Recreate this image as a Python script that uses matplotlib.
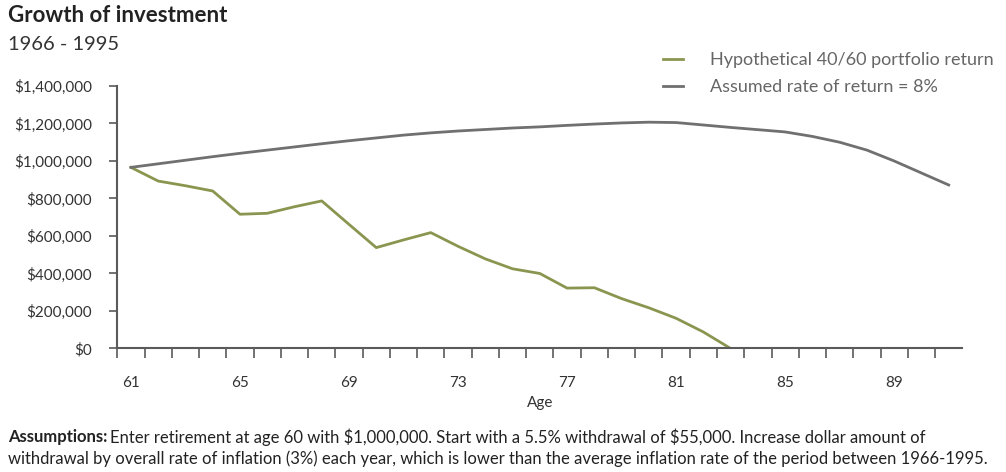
import numpy as np
import matplotlib
matplotlib.use("Agg")
import matplotlib.pyplot as plt
from matplotlib.ticker import FuncFormatter, MultipleLocator

plt.rcParams['font.family'] = ['Lato', 'DejaVu Sans']
plt.rcParams['text.parse_math'] = False

# portfolio value at each age, 1966 - 1995 returns
ages = list(range(61, 92))
portfolio_40_60 = [966000, 893000, 868000, 840000, 716000, 721000, 756000, 787000,
                   662000, 538000, 579000, 618000, 545000, 478000, 425000, 400000,
                   322000, 324000, 266000, 217000, 161000, 88000, 0]
assumed_8pct = [966000, 985000, 1004000, 1023000, 1041000, 1058000, 1075000, 1092000,
                1108000, 1123000, 1138000, 1150000, 1160000, 1168000, 1176000, 1182000,
                1190000, 1197000, 1203000, 1207000, 1205000, 1192000, 1179000, 1167000,
                1155000, 1131000, 1100000, 1058000, 1000000, 936000, 872000]
age_labels = [61, 65, 69, 73, 77, 81, 85, 89]

GREEN = '#8a9650'
GRAY = '#707070'
AXIS = '#5a5a5a'
TEXT = '#333333'

def money(v, pos):
    return "${:,.0f}".format(v)

def main():
    fig = plt.figure(figsize=(10.06, 4.72), dpi=100)
    ax = fig.add_axes([0.1166, 0.2617, 0.84, 0.5561])

    ax.plot(ages[:len(portfolio_40_60)], portfolio_40_60, color=GREEN, lw=2.0,
            label="Hypothetical 40/60 portfolio return", solid_joinstyle='round')
    ax.plot(ages, assumed_8pct, color=GRAY, lw=2.0,
            label="Assumed rate of return = 8%", solid_joinstyle='round')

    ax.set_xlim(60.5, 91.5)
    ax.set_ylim(0, 1400000)
    ax.yaxis.set_major_locator(MultipleLocator(200000))
    ax.yaxis.set_major_formatter(FuncFormatter(money))

    ax.set_xticks(age_labels)
    ax.set_xticklabels([str(a) for a in age_labels])
    ax.set_xticks(np.arange(60.5, 91.0, 1.0), minor=True)
    ax.tick_params(axis='x', which='major', length=0, pad=20, labelsize=11, labelcolor=TEXT)
    ax.tick_params(axis='x', which='minor', length=7, width=1.2, color=AXIS, direction='out')
    ax.tick_params(axis='y', length=6, width=1.2, color=AXIS, pad=12, labelsize=11,
                   labelcolor=TEXT)

    for side in ('top', 'right'):
        ax.spines[side].set_visible(False)
    for side in ('left', 'bottom'):
        ax.spines[side].set_color(AXIS)
        ax.spines[side].set_linewidth(1.5)

    ax.set_xlabel("Age", fontsize=11, color=TEXT, labelpad=4)

    fig.text(0.008, 0.968, "Growth of investment", fontsize=16, fontweight='bold',
             color='#222222', va='center')
    fig.text(0.008, 0.905, "1966 - 1995", fontsize=14.5, color=TEXT, va='center')

    leg = fig.legend(loc='upper left', bbox_to_anchor=(0.652, 0.905), frameon=False,
                     fontsize=13, handlelength=1.1, handletextpad=1.5, labelspacing=0.6,
                     borderaxespad=0)
    for t in leg.get_texts():
        t.set_color('#666666')
    for h in leg.get_lines():
        h.set_linewidth(2.0)

    # bold lead-in, then the rest of the first line right after it
    head = fig.text(0.008, 0.074, "Assumptions:", fontsize=12, fontweight='bold',
                    color='#222222', va='center')
    renderer = fig.canvas.get_renderer()
    bb = head.get_window_extent(renderer).transformed(fig.transFigure.inverted())
    fig.text(bb.x1 + 0.003, 0.074,
             "Enter retirement at age 60 with $1,000,000. Start with a 5.5% "
             "withdrawal of $55,000. Increase dollar amount of",
             fontsize=12, color='#222222', va='center')
    fig.text(0.008, 0.029,
             "withdrawal by overall rate of inflation (3%) each year, which is lower than the "
             "average inflation rate of the period between 1966-1995.",
             fontsize=12, color='#222222', va='center')

    fig.savefig("out.png", dpi=100)

if __name__ == '__main__':
    main()
